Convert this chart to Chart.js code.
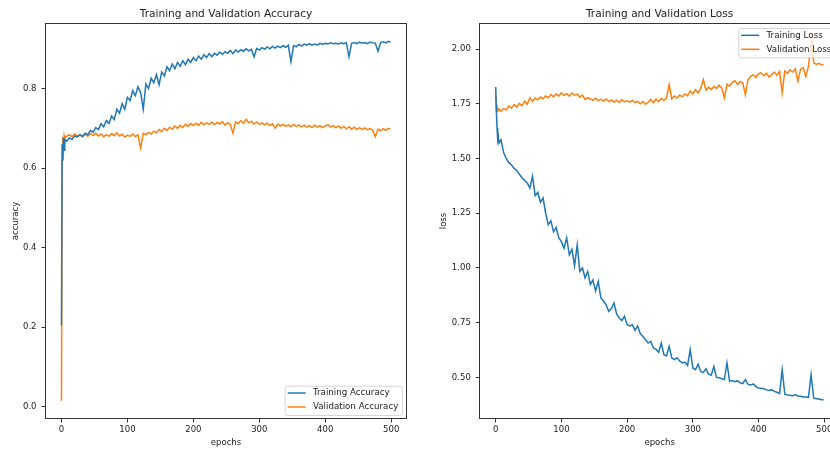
<!DOCTYPE html>
<html>
<head>
<meta charset="utf-8">
<script src="https://cdn.jsdelivr.net/npm/chart.js@4.4.1/dist/chart.umd.min.js"></script>
<style>
  body { margin: 0; width: 830px; height: 450px; overflow: hidden; position: relative; background: #fff; }
  .panel { position: absolute; top: 0; height: 450px; }
</style>
</head>
<body>

<div class="panel" style="left:0;width:415px"><canvas id="graficoAcc" width="415" height="450"></canvas></div>
<div class="panel" style="left:415px;width:432px"><canvas id="graficoLoss" width="432" height="450"></canvas></div>

<script>
// =====================================================
// DATOS
// =====================================================

const epochs = [
  0, 1, 2, 3, 4, 5,
  8, 12, 16, 20, 24, 28, 32, 36, 40, 44, 48, 52, 56, 60, 64, 68, 72, 76, 80, 84, 88, 92, 96, 100,
  104, 108, 112, 116, 120, 124, 128, 132, 136, 140, 144, 148, 152, 156, 160, 164, 168, 172, 176, 180, 184, 188, 192, 196, 200,
  204, 208, 212, 216, 220, 224, 228, 232, 236, 240, 244, 248, 252, 256, 260, 264, 268, 272, 276, 280, 284, 288, 292, 296, 300,
  304, 308, 312, 316, 320, 324, 328, 332, 336, 340, 344, 348, 352, 356, 360, 364, 368, 372, 376, 380, 384, 388, 392, 396, 400,
  404, 408, 412, 416, 420, 424, 428, 432, 436, 440, 444, 448, 452, 456, 460, 464, 468, 472, 476, 480, 484, 488, 492, 496, 499
];

const trainAcc = [
  0.205, 0.66, 0.62, 0.675, 0.645, 0.672,
  0.668, 0.676, 0.672, 0.681, 0.678, 0.684, 0.680, 0.688, 0.684, 0.695, 0.690, 0.702, 0.697, 0.712, 0.704, 0.720, 0.712, 0.731, 0.722, 0.748, 0.738, 0.762, 0.748, 0.778,
  0.770, 0.795, 0.782, 0.805, 0.790, 0.748, 0.812, 0.800, 0.826, 0.815, 0.835, 0.810, 0.842, 0.832, 0.855, 0.845, 0.862, 0.850, 0.866, 0.856, 0.870, 0.860, 0.874, 0.866, 0.878,
  0.870, 0.882, 0.874, 0.885, 0.878, 0.888, 0.880, 0.889, 0.884, 0.892, 0.886, 0.893, 0.889, 0.896, 0.888, 0.897, 0.892, 0.898, 0.894, 0.900, 0.895, 0.899, 0.880, 0.901, 0.897,
  0.903, 0.899, 0.905, 0.900, 0.906, 0.902, 0.907, 0.903, 0.908, 0.904, 0.909, 0.868, 0.908, 0.905, 0.911, 0.907, 0.912, 0.909, 0.913, 0.909, 0.912, 0.910, 0.914, 0.911, 0.914,
  0.912, 0.915, 0.913, 0.914, 0.912, 0.915, 0.913, 0.916, 0.880, 0.914, 0.916, 0.913, 0.917, 0.914, 0.916, 0.913, 0.917, 0.915, 0.914, 0.894, 0.916, 0.918, 0.915, 0.919, 0.917
];

const valAcc = [
  0.015, 0.62, 0.678, 0.655, 0.682, 0.675,
  0.680, 0.684, 0.679, 0.686, 0.681, 0.683, 0.678, 0.685, 0.680, 0.687, 0.682, 0.688, 0.681, 0.686, 0.679, 0.684, 0.680, 0.687, 0.682, 0.689, 0.681, 0.685, 0.678, 0.683,
  0.680, 0.686, 0.679, 0.684, 0.650, 0.688, 0.684, 0.690, 0.686, 0.693, 0.689, 0.697, 0.692, 0.700, 0.695, 0.703, 0.698, 0.706, 0.700, 0.707, 0.702, 0.710, 0.705, 0.712, 0.707,
  0.713, 0.708, 0.715, 0.709, 0.714, 0.710, 0.716, 0.709, 0.715, 0.711, 0.717, 0.708, 0.714, 0.710, 0.688, 0.716, 0.712, 0.719, 0.713, 0.723, 0.714, 0.718, 0.711, 0.716, 0.710,
  0.714, 0.709, 0.713, 0.707, 0.712, 0.700, 0.711, 0.706, 0.710, 0.705, 0.709, 0.704, 0.710, 0.705, 0.709, 0.704, 0.708, 0.703, 0.707, 0.702, 0.708, 0.703, 0.707, 0.702, 0.706,
  0.709, 0.703, 0.707, 0.702, 0.706, 0.700, 0.705, 0.699, 0.704, 0.698, 0.703, 0.697, 0.702, 0.697, 0.701, 0.696, 0.700, 0.695, 0.679, 0.698, 0.694, 0.699, 0.695, 0.700, 0.698
];

const trainLoss = [
  1.827, 1.71, 1.64, 1.586, 1.60, 1.57,
  1.585, 1.527, 1.50, 1.481, 1.470, 1.455, 1.445, 1.428, 1.412, 1.400, 1.388, 1.365, 1.419, 1.330, 1.345, 1.300, 1.320, 1.250, 1.198, 1.215, 1.165, 1.185, 1.137, 1.120,
  1.090, 1.137, 1.060, 1.085, 1.010, 1.106, 0.985, 1.000, 0.955, 0.984, 0.925, 0.945, 0.895, 0.939, 0.863, 0.850, 0.832, 0.802, 0.815, 0.840, 0.790, 0.771, 0.760, 0.779, 0.741,
  0.735, 0.741, 0.715, 0.735, 0.700, 0.687, 0.672, 0.657, 0.665, 0.634, 0.628, 0.615, 0.657, 0.604, 0.598, 0.642, 0.589, 0.581, 0.590, 0.575, 0.566, 0.570, 0.555, 0.627, 0.543,
  0.535, 0.560, 0.527, 0.522, 0.540, 0.515, 0.510, 0.550, 0.500, 0.498, 0.494, 0.490, 0.566, 0.482, 0.486, 0.480, 0.485, 0.475, 0.472, 0.490, 0.468, 0.465, 0.470, 0.458, 0.452,
  0.451, 0.448, 0.443, 0.440, 0.444, 0.436, 0.432, 0.426, 0.535, 0.424, 0.420, 0.418, 0.416, 0.422, 0.415, 0.414, 0.411, 0.410, 0.409, 0.512, 0.405, 0.403, 0.401, 0.398, 0.398
];

const valLoss = [
  1.790, 1.723, 1.715, 1.730, 1.720, 1.725,
  1.716, 1.728, 1.722, 1.739, 1.730, 1.746, 1.735, 1.752, 1.742, 1.762, 1.748, 1.777, 1.760, 1.775, 1.768, 1.781, 1.772, 1.786, 1.778, 1.792, 1.782, 1.795, 1.786, 1.800,
  1.788, 1.796, 1.785, 1.800, 1.788, 1.794, 1.780, 1.790, 1.770, 1.778, 1.772, 1.766, 1.775, 1.764, 1.770, 1.762, 1.772, 1.760, 1.768, 1.758, 1.766, 1.756, 1.768, 1.760, 1.764,
  1.758, 1.766, 1.755, 1.762, 1.750, 1.760, 1.748, 1.757, 1.770, 1.755, 1.772, 1.760, 1.775, 1.765, 1.778, 1.838, 1.772, 1.785, 1.776, 1.790, 1.782, 1.795, 1.786, 1.808, 1.795,
  1.815, 1.800, 1.820, 1.860, 1.812, 1.826, 1.815, 1.830, 1.820, 1.835, 1.822, 1.777, 1.840, 1.830, 1.848, 1.855, 1.838, 1.852, 1.845, 1.792, 1.860, 1.875, 1.883, 1.870, 1.888,
  1.891, 1.878, 1.890, 1.872, 1.883, 1.895, 1.880, 1.898, 1.800, 1.900, 1.890, 1.905, 1.895, 1.910, 1.853, 1.908, 1.915, 1.875, 1.921, 2.043, 1.937, 1.930, 1.935, 1.928, 1.929
];

const xTicks = [0, 100, 200, 300, 400, 500];
const accTicks = [0.0, 0.2, 0.4, 0.6, 0.8];
const lossTicks = [0.50, 0.75, 1.00, 1.25, 1.50, 1.75, 2.00];

const AZUL = "#1f77b4";
const NARANJA = "#ff7f0e";

Chart.defaults.font.family = '"DejaVu Sans", sans-serif';
Chart.defaults.color = "#222";

// =====================================================
// PLUGIN: MARCO, TITULO Y LEYENDA ESTILO MATPLOTLIB
// =====================================================

const marcoPlugin = {
  id: "marco",
  afterDraw(chart, args, opts) {
    const ctx = chart.ctx;
    const a = chart.chartArea;

    ctx.save();

    // marco
    ctx.strokeStyle = "#333";
    ctx.lineWidth = 1;
    ctx.strokeRect(Math.round(a.left) + 0.5, Math.round(a.top) + 0.5,
      Math.round(a.right - a.left) - 1, Math.round(a.bottom - a.top) - 1);

    // titulo
    ctx.fillStyle = "#222";
    ctx.font = '10.6px "DejaVu Sans", sans-serif';
    ctx.textAlign = "center";
    ctx.textBaseline = "middle";
    ctx.fillText(opts.titulo, (a.left + a.right) / 2, 14);

    // leyenda
    ctx.font = '8.7px "DejaVu Sans", sans-serif';
    const sets = chart.data.datasets;
    const anchoTexto = Math.max(...sets.map(d => ctx.measureText(d.label).width));
    const w = 3 + 18 + 7 + anchoTexto + 4;
    const h = 29.3;
    const x0 = a.right - 5 - w;
    const y0 = opts.esquina === "abajo" ? a.bottom - 4 - h : a.top + 5;

    ctx.globalAlpha = 0.8;
    ctx.fillStyle = "#fff";
    ctx.strokeStyle = "#ccc";
    ctx.beginPath();
    ctx.roundRect(x0 + 0.5, y0 + 0.5, w, h, 2);
    ctx.fill();
    ctx.stroke();
    ctx.globalAlpha = 1;

    sets.forEach((d, i) => {
      const yy = y0 + 7.3 + i * 14;
      ctx.strokeStyle = d.borderColor;
      ctx.lineWidth = 1.5;
      ctx.beginPath();
      ctx.moveTo(x0 + 3, yy);
      ctx.lineTo(x0 + 21, yy);
      ctx.stroke();
      ctx.fillStyle = "#222";
      ctx.textAlign = "left";
      ctx.fillText(d.label, x0 + 28.3, yy);
    });

    ctx.restore();
  }
};

// =====================================================
// CONFIGURACION COMUN
// =====================================================

function serie(label, valores, color) {
  return {
    label: label,
    data: epochs.map((e, i) => ({ x: e, y: valores[i] })),
    borderColor: color,
    backgroundColor: color,
    borderWidth: 1.5,
    pointRadius: 0,
    tension: 0
  };
}

function opciones(cfg) {
  return {
    responsive: false,
    animation: false,
    events: [],
    layout: { padding: { top: 23, right: cfg.padDerecha, bottom: 0, left: 0 } },
    plugins: {
      legend: { display: false },
      tooltip: { enabled: false },
      marco: { titulo: cfg.titulo, esquina: cfg.esquina }
    },
    scales: {
      x: {
        type: "linear",
        min: -25,
        max: 524,
        afterBuildTicks: s => { s.ticks = xTicks.map(v => ({ value: v })); },
        afterFit: s => { s.height = 31; },
        grid: { drawOnChartArea: false, drawTicks: true, tickLength: 3.5, tickColor: "#333" },
        border: { display: false },
        ticks: { font: { size: 8.5 }, color: "#222", padding: 2, maxRotation: 0, autoSkip: false, callback: v => String(v) },
        title: { display: true, text: "epochs", font: { size: 8.5 }, color: "#222", padding: { top: 0, bottom: 2 } }
      },
      y: {
        type: "linear",
        min: cfg.yMin,
        max: cfg.yMax,
        afterBuildTicks: s => { s.ticks = cfg.yTicks.map(v => ({ value: v })); },
        afterFit: s => { s.width = cfg.anchoEje; },
        grid: { drawOnChartArea: false, drawTicks: true, tickLength: 3.5, tickColor: "#333" },
        border: { display: false },
        ticks: { font: { size: 8.5 }, color: "#222", padding: 5, autoSkip: false, callback: v => v.toFixed(cfg.decimales) },
        title: { display: true, text: cfg.tituloY, font: { size: 8.5 }, color: "#222", padding: { top: cfg.padTituloY, bottom: 0 } }
      }
    }
  };
}

// =====================================================
// GRAFICO ACCURACY
// =====================================================

new Chart(document.getElementById("graficoAcc"), {
  type: "line",
  data: {
    datasets: [
      serie("Training Accuracy", trainAcc, AZUL),
      serie("Validation Accuracy", valAcc, NARANJA)
    ]
  },
  options: opciones({
    titulo: "Training and Validation Accuracy",
    esquina: "abajo",
    padDerecha: 8,
    yMin: -0.031,
    yMax: 0.965,
    yTicks: accTicks,
    decimales: 1,
    anchoEje: 45,
    tituloY: "accuracy",
    padTituloY: 11
  }),
  plugins: [marcoPlugin]
});

// =====================================================
// GRAFICO LOSS
// =====================================================

new Chart(document.getElementById("graficoLoss"), {
  type: "line",
  data: {
    datasets: [
      serie("Training Loss", trainLoss, AZUL),
      serie("Validation Loss", valLoss, NARANJA)
    ]
  },
  options: opciones({
    titulo: "Training and Validation Loss",
    esquina: "arriba",
    padDerecha: 7,
    yMin: 0.31,
    yMax: 2.119,
    yTicks: lossTicks,
    decimales: 2,
    anchoEje: 64.3,
    tituloY: "loss",
    padTituloY: 24
  }),
  plugins: [marcoPlugin]
});
</script>
</body>
</html>
